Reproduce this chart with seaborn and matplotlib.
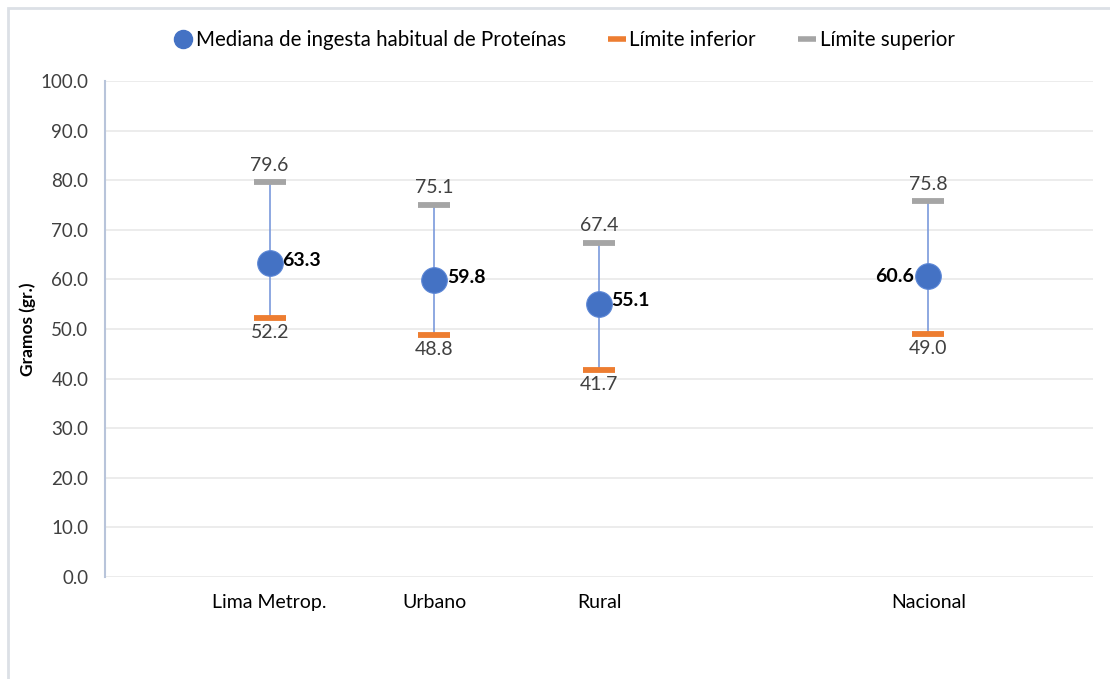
import numpy as np
import pandas as pd
import seaborn as sns
import matplotlib.pyplot as plt
from matplotlib.lines import Line2D
from matplotlib.patches import Rectangle

# data (blank slot between Rural and Nacional, as in the original)
categories = ["Lima Metrop.", "Urbano", "Rural", "", "Nacional"]
mediana = [63.3, 59.8, 55.1, np.nan, 60.6]
lim_inf = [52.2, 48.8, 41.7, np.nan, 49.0]
lim_sup = [79.6, 75.1, 67.4, np.nan, 75.8]
y_ticks = [0, 10, 20, 30, 40, 50, 60, 70, 80, 90, 100]

sns.set_theme(style="white")
plt.rcParams['font.family'] = ['Lato', 'DejaVu Sans']

df = pd.DataFrame({
    'cat': categories,
    'pos': np.arange(1, len(categories) + 1),
    'med': mediana,
    'low': lim_inf,
    'high': lim_sup,
}).dropna()

blue = '#4472C4'
orange = '#ED7D31'
gray = '#A5A5A5'
txt = '#404040'

fig = plt.figure(figsize=(11.1, 6.79), dpi=100)
ax = fig.add_axes([0.0946, 0.1502, 0.8901, 0.7305])

# vertical range lines
ax.vlines(df['pos'], df['low'], df['high'], color='#7A9ADB', lw=1.2, zorder=1)

# caps
sns.scatterplot(data=df, x='pos', y='low', marker='_', s=560, linewidth=4.2,
                color=orange, ax=ax, zorder=2, legend=False)
sns.scatterplot(data=df, x='pos', y='high', marker='_', s=560, linewidth=4.2,
                color=gray, ax=ax, zorder=2, legend=False)
# medians
sns.scatterplot(data=df, x='pos', y='med', marker='o', s=340, color=blue,
                edgecolor='#5B86D6', linewidth=0.8, ax=ax, zorder=3, legend=False)

# labels
last = df['pos'].max()
for _, r in df.iterrows():
    ax.annotate(f"{r['high']:.1f}", (r['pos'], r['high']), xytext=(0, 6),
                textcoords='offset points', ha='center', va='bottom',
                fontsize=14, color=txt)
    ax.annotate(f"{r['low']:.1f}", (r['pos'], r['low']), xytext=(0, -4),
                textcoords='offset points', ha='center', va='top',
                fontsize=14, color=txt)
    if r['pos'] == last:
        ax.annotate(f"{r['med']:.1f}", (r['pos'], r['med']), xytext=(-10, 0),
                    textcoords='offset points', ha='right', va='center',
                    fontsize=14, fontweight='bold', color='black')
    else:
        ax.annotate(f"{r['med']:.1f}", (r['pos'], r['med']), xytext=(9, 2),
                    textcoords='offset points', ha='left', va='center',
                    fontsize=14, fontweight='bold', color='black')

ax.set_xlim(0, len(categories) + 1)
ax.set_ylim(0, 100)
ax.set_yticks(y_ticks)
ax.set_yticklabels([f"{v:.1f}" for v in y_ticks], fontsize=13.5, color=txt)
ax.set_xticks(df['pos'])
ax.set_xticklabels(df['cat'], fontsize=14, color='black')
ax.tick_params(axis='both', length=0)
ax.tick_params(axis='y', pad=12)
ax.tick_params(axis='x', pad=12)
ax.set_xlabel('')
ax.set_ylabel('Gramos (gr.)', fontsize=12.5, fontweight='bold', color='black', labelpad=3)

ax.grid(axis='y', color='#EBEBEB', lw=1.3)
ax.grid(axis='x', visible=False)
for s in ['top', 'right', 'bottom']:
    ax.spines[s].set_visible(False)
ax.spines['left'].set_color('#B8C4DA')
ax.spines['left'].set_linewidth(1.5)

handles = [
    Line2D([], [], marker='o', ls='', color=blue, markersize=13),
    Line2D([], [], marker='_', ls='', color=orange, markersize=13, mew=4),
    Line2D([], [], marker='_', ls='', color=gray, markersize=13, mew=4),
]
fig.legend(handles, ['Mediana de ingesta habitual de Proteínas', 'Límite inferior',
                     'Límite superior'],
           loc='center', bbox_to_anchor=(0.508, 0.941), ncol=3, frameon=False,
           fontsize=14.8, handletextpad=0.1, columnspacing=2.0, handlelength=1.0,
           labelcolor='black')

# outer chart frame
fig.add_artist(Rectangle((8 / 1110, -0.1), 1.2, 1.1 - 8 / 679, transform=fig.transFigure,
                         fill=False, ec='#DCE0E6', lw=2))

fig.savefig('out.png', dpi=100)
